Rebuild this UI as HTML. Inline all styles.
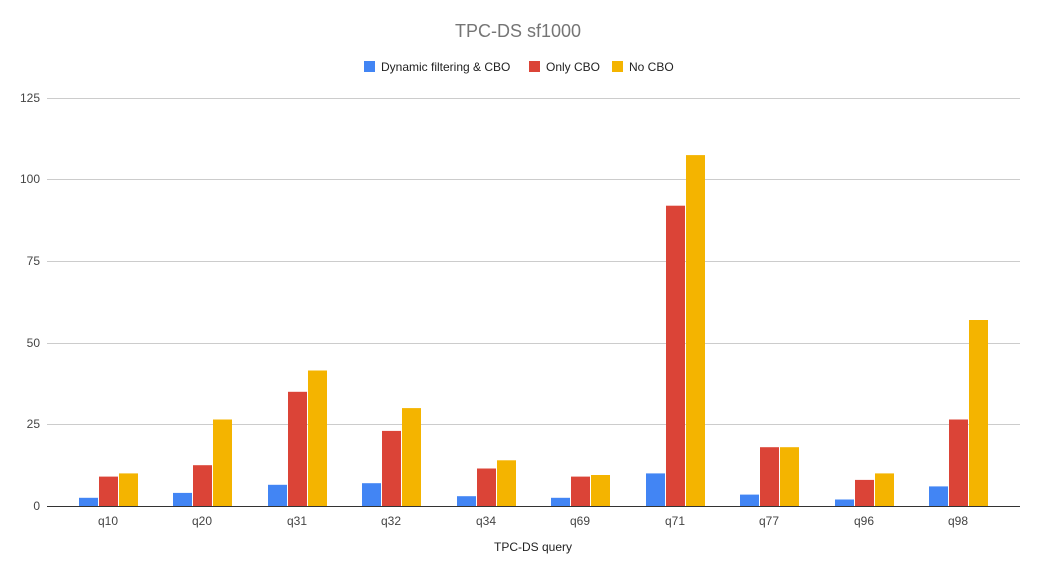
<!DOCTYPE html>
<html><head><meta charset="utf-8"><style>
body{margin:0;background:#fff;}
svg{display:block;font-family:"Liberation Sans",Arial,sans-serif;}
</style></head><body>
<svg width="1037" height="577" viewBox="0 0 1037 577" xmlns="http://www.w3.org/2000/svg">
<rect width="1037" height="577" fill="#fff"/>
<text x="518" y="37" text-anchor="middle" font-size="18" fill="#757575">TPC-DS sf1000</text>
<g font-size="12" fill="#222">
<rect x="364" y="61" width="11" height="11" fill="#4285f4"/><text x="381" y="71">Dynamic filtering &amp; CBO</text>
<rect x="529" y="61" width="11" height="11" fill="#db4437"/><text x="546" y="71">Only CBO</text>
<rect x="612" y="61" width="11" height="11" fill="#f4b400"/><text x="629" y="71">No CBO</text>
</g>
<g stroke="#ccc" stroke-width="1">
<line x1="47" x2="1020" y1="98.5" y2="98.5"/>
<line x1="47" x2="1020" y1="179.5" y2="179.5"/>
<line x1="47" x2="1020" y1="261.5" y2="261.5"/>
<line x1="47" x2="1020" y1="343.5" y2="343.5"/>
<line x1="47" x2="1020" y1="424.5" y2="424.5"/>
</g>
<g font-size="12" fill="#444" text-anchor="end">
<text x="40" y="102">125</text><text x="40" y="183">100</text><text x="40" y="265">75</text>
<text x="40" y="347">50</text><text x="40" y="428">25</text><text x="40" y="510">0</text>
</g>
<g fill="#4285f4">
<rect x="79" y="497.8" width="19" height="8.2"/>
<rect x="173" y="492.9" width="19" height="13.1"/>
<rect x="268" y="484.8" width="19" height="21.2"/>
<rect x="362" y="483.2" width="19" height="22.8"/>
<rect x="457" y="496.2" width="19" height="9.8"/>
<rect x="551" y="497.8" width="19" height="8.2"/>
<rect x="646" y="473.4" width="19" height="32.6"/>
<rect x="740" y="494.6" width="19" height="11.4"/>
<rect x="835" y="499.5" width="19" height="6.5"/>
<rect x="929" y="486.4" width="19" height="19.6"/>
</g>
<g fill="#db4437">
<rect x="99" y="476.6" width="19" height="29.4"/>
<rect x="193" y="465.2" width="19" height="40.8"/>
<rect x="288" y="391.8" width="19" height="114.2"/>
<rect x="382" y="430.9" width="19" height="75.1"/>
<rect x="477" y="468.5" width="19" height="37.5"/>
<rect x="571" y="476.6" width="19" height="29.4"/>
<rect x="666" y="205.7" width="19" height="300.3"/>
<rect x="760" y="447.2" width="19" height="58.8"/>
<rect x="855" y="479.9" width="19" height="26.1"/>
<rect x="949" y="419.5" width="19" height="86.5"/>
</g>
<g fill="#f4b400">
<rect x="119" y="473.4" width="19" height="32.6"/>
<rect x="213" y="419.5" width="19" height="86.5"/>
<rect x="308" y="370.5" width="19" height="135.5"/>
<rect x="402" y="408.1" width="19" height="97.9"/>
<rect x="497" y="460.3" width="19" height="45.7"/>
<rect x="591" y="475" width="19" height="31"/>
<rect x="686" y="155.1" width="19" height="350.9"/>
<rect x="780" y="447.2" width="19" height="58.8"/>
<rect x="875" y="473.4" width="19" height="32.6"/>
<rect x="969" y="320" width="19" height="186"/>
</g>
<line x1="47" x2="1020" y1="506.5" y2="506.5" stroke="#333" stroke-width="1"/>
<g font-size="12" fill="#444" text-anchor="middle">
<text x="108" y="525">q10</text><text x="202" y="525">q20</text><text x="297" y="525">q31</text>
<text x="391" y="525">q32</text><text x="486" y="525">q34</text><text x="580" y="525">q69</text>
<text x="675" y="525">q71</text><text x="769" y="525">q77</text><text x="864" y="525">q96</text>
<text x="958" y="525">q98</text>
</g>
<text x="533" y="551" text-anchor="middle" font-size="12" fill="#222">TPC-DS query</text>
</svg>
</body></html>
